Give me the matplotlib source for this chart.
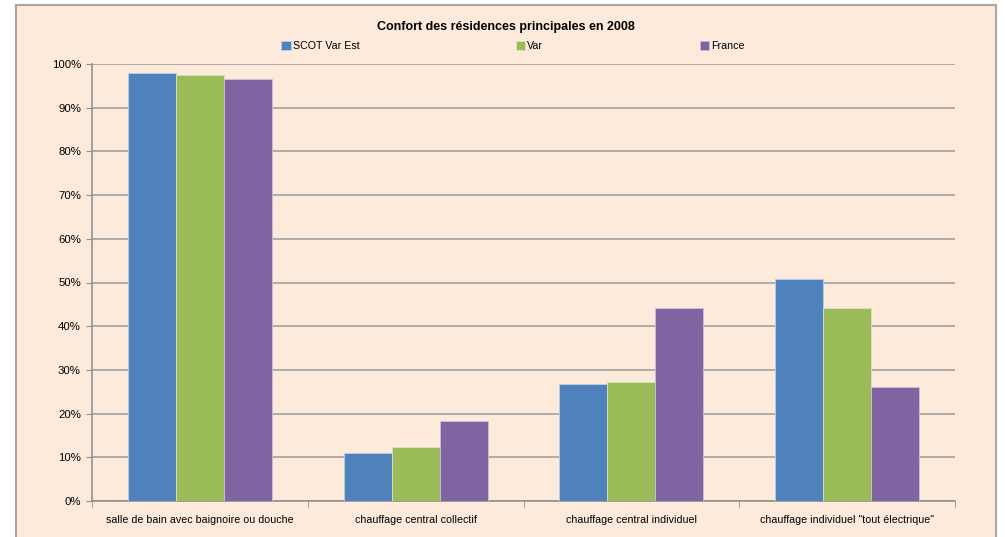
import matplotlib
matplotlib.use('Agg')
import matplotlib.pyplot as plt
import matplotlib.patches as mpatches
import numpy as np

categories = ['salle de bain avec baignoire ou douche',
              'chauffage central collectif',
              'chauffage central individuel',
              'chauffage individuel "tout électrique"']
series_names = ['SCOT Var Est', 'Var', 'France']
scot = [97.9, 10.9, 26.7, 50.9]
var = [97.5, 12.3, 27.3, 44.2]
france = [96.5, 18.2, 44.2, 26.2]
colors = ['#4F81BD', '#9BBB59', '#8064A2']
edges = ['#B9CDE5', '#D7E4BD', '#CCC1DA']

plt.rcParams['font.family'] = ['Liberation Sans', 'DejaVu Sans']

W, H = 1005, 537
fig = plt.figure(figsize=(W / 100, H / 100), dpi=100)
fig.patch.set_facecolor('white')

# chart area frame
frame = mpatches.Rectangle((16 / W, -0.05), 980 / W, 1.05 - 5 / H,
                           transform=fig.transFigure, facecolor='#FDEADA',
                           edgecolor='#A6A6A6', linewidth=1.5, zorder=-1)
fig.patches.append(frame)

ax = fig.add_axes([92 / W, 36 / H, 863 / W, 437 / H])
ax.patch.set_alpha(0)

x = np.arange(len(categories))
bw = 1 / 4.5
for i, vals in enumerate([scot, var, france]):
    ax.bar(x + (i - 1) * bw, vals, width=bw, color=colors[i],
           edgecolor=edges[i], linewidth=0.6, label=series_names[i], zorder=3)

ax.set_xlim(-0.5, len(categories) - 0.5)
ax.set_ylim(0, 100)
ax.set_yticks(np.arange(0, 101, 10))
ax.set_yticklabels(['%d%%' % v for v in range(0, 101, 10)], fontsize=8.2)
ax.yaxis.grid(True, color='#A0A0A0', linewidth=1.2, zorder=1)
ax.set_axisbelow(True)

ax.set_xticks(x)
ax.set_xticklabels(categories, fontsize=7.7)
ax.set_xticks(np.arange(-0.5, len(categories)), minor=True)
ax.tick_params(axis='x', which='major', length=0, pad=10)
ax.tick_params(axis='x', which='minor', length=4, color='#909090')
ax.tick_params(axis='y', length=4, color='#909090', pad=4)

for side in ['top', 'right']:
    ax.spines[side].set_visible(False)
for side in ['left', 'bottom']:
    ax.spines[side].set_color('#909090')
    ax.spines[side].set_linewidth(1.2)

fig.text(506 / W, 1 - 27 / H, 'Confort des résidences principales en 2008',
         ha='center', va='center', fontsize=9, fontweight='bold')

leg = fig.legend(loc='center left', bbox_to_anchor=(281 / W, 1 - 46 / H),
                 ncol=3, frameon=False, fontsize=7.7, handlelength=0.9,
                 handleheight=0.9, handletextpad=0.2, columnspacing=14.6,
                 borderpad=0, borderaxespad=0)

fig.savefig('out.png', dpi=100)
plt.close(fig)
